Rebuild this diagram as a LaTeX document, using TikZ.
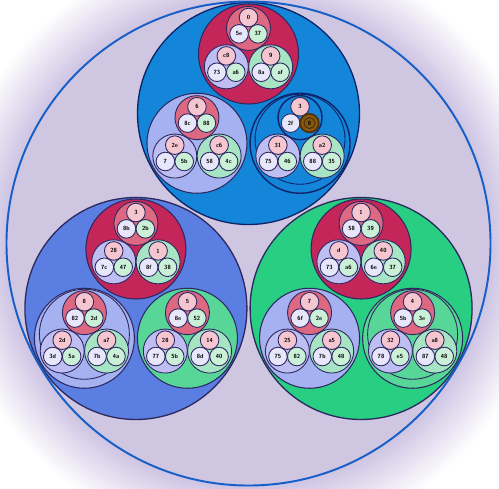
\documentclass[tikz,border=0pt]{standalone}
\usetikzlibrary{calc}

\definecolor{hazecol}{RGB}{206,196,228}
\definecolor{outerfill}{RGB}{207,199,225}
\definecolor{outerline}{RGB}{22,95,200}
\definecolor{pathblue}{RGB}{20,134,218}
\definecolor{ringblue}{RGB}{90,126,226}
\definecolor{ringgreen}{RGB}{40,206,130}
\definecolor{bigred}{RGB}{196,38,90}
\definecolor{biglav}{RGB}{165,177,240}
\definecolor{biggreen}{RGB}{88,214,152}
\definecolor{midred}{RGB}{220,104,130}
\definecolor{midlav}{RGB}{190,190,242}
\definecolor{midgreen}{RGB}{166,228,196}
\definecolor{leafred}{RGB}{245,198,208}
\definecolor{leaflav}{RGB}{232,230,250}
\definecolor{leafgreen}{RGB}{202,240,216}
\definecolor{edge}{RGB}{45,40,95}
\definecolor{pathedge}{RGB}{15,35,105}
\definecolor{nut}{RGB}{135,88,18}
\definecolor{nutedge}{RGB}{80,50,8}

\tikzset{
  outer/.style={draw=outerline,line width=1.1pt},
  bigring/.style={draw=edge,line width=0.75pt},
  ring/.style={draw=edge,line width=0.6pt},
  midring/.style={draw=edge,line width=0.5pt},
  pathring/.style={draw=pathedge,line width=0.8pt},
  ghost/.style={draw=edge,line width=0.5pt},
  leaf/.style={shape=circle,draw=edge,line width=0.5pt,inner sep=0pt,minimum size=0.372cm,
    font=\fontsize{3.4}{3.4}\selectfont\sffamily\bfseries},
  hit/.style={leaf,fill=nut,draw=nutedge,line width=1pt}
}

\newcommand{\kids}[2]{%
  \coordinate (#1-t) at ($(#1)+(90:#2)$);
  \coordinate (#1-l) at ($(#1)+(210:#2)$);
  \coordinate (#1-r) at ($(#1)+(330:#2)$);
}
\def\bud#1#2#3/#4/#5\relax{%
  \draw[midring,fill=#2] (#1) circle (22);
  \node[leaf,fill=leafred] (#1-x) at ($(#1)+(90:10.9)$) {#3};
  \node[leaf,fill=leaflav] (#1-y) at ($(#1)+(210:10.9)$) {#4};
  \node[leaf,fill=leafgreen] (#1-z) at ($(#1)+(330:10.9)$) {#5};
}
\newcommand{\group}[4]{%
  \kids{#1}{25.6}
  \bud{#1-t}{midred}#2\relax
  \bud{#1-l}{midlav}#3\relax
  \bud{#1-r}{midgreen}#4\relax
}

\begin{document}
\begin{tikzpicture}[x=0.02cm,y=0.02cm]
\useasboundingbox (0,0) rectangle (499,488);
\coordinate (hub) at (248.5,244.5);
\foreach \k [evaluate=\k as \p using int(5*\k), evaluate=\k as \rr using 302-2.9*\k] in {0,...,20}
  \fill[hazecol!\p!white] (hub) circle (\rr);
\fill[outerfill] (hub) circle (242);

\kids{hub}{130}
\draw[bigring,fill=pathblue,draw=pathedge] (hub-t) circle (111);
\draw[bigring,fill=ringblue] (hub-l) circle (111);
\draw[bigring,fill=ringgreen] (hub-r) circle (111);
\kids{hub-t}{59.5}
\kids{hub-l}{59.5}
\kids{hub-r}{59.5}

\draw[ring,fill=bigred] (hub-t-t) circle (50);
\group{hub-t-t}{0/5e/37}{c8/73/a6}{9/8a/af}
\draw[ring,fill=biglav] (hub-t-l) circle (50);
\group{hub-t-l}{6/8c/88}{2e/7/5b}{c6/58/4c}
\draw[pathring,fill=pathblue] (hub-t-r) circle (50);
\draw[ghost,draw=pathedge] ($(hub-t-r)+(0,4)$) circle (45);
\kids{hub-t-r}{25.6}
\draw[pathring,fill=pathblue] (hub-t-r-t) circle (22);
\node[leaf,fill=leafred] (hub-t-r-t-x) at ($(hub-t-r-t)+(90:10.9)$) {3};
\node[leaf,fill=leaflav] (hub-t-r-t-y) at ($(hub-t-r-t)+(210:10.9)$) {2f};
\node[hit] (hub-t-r-t-z) at ($(hub-t-r-t)+(330:10.9)$) {8};
\draw[nutedge,line width=0.6pt] (hub-t-r-t-z.center) circle (5.5);
\bud{hub-t-r-l}{midlav}31/75/46\relax
\bud{hub-t-r-r}{midgreen}a2/88/35\relax

\draw[ring,fill=bigred] (hub-l-t) circle (50);
\group{hub-l-t}{3/8b/2b}{28/7c/47}{1/8f/38}
\draw[ring,fill=biglav] (hub-l-l) circle (50);
\draw[ghost] ($(hub-l-l)+(0,4)$) circle (45);
\group{hub-l-l}{8/82/2d}{2d/3d/5a}{a7/7b/4a}
\draw[ring,fill=biggreen] (hub-l-r) circle (50);
\group{hub-l-r}{5/8e/52}{28/77/5b}{14/8d/40}

\draw[ring,fill=bigred] (hub-r-t) circle (50);
\group{hub-r-t}{1/58/39}{d/73/a6}{40/6e/37}
\draw[ring,fill=biglav] (hub-r-l) circle (50);
\group{hub-r-l}{7/6f/2e}{25/75/82}{a5/7b/48}
\draw[ring,fill=biggreen] (hub-r-r) circle (50);
\draw[ghost] ($(hub-r-r)+(0,4)$) circle (45);
\group{hub-r-r}{4/5b/3e}{32/78/e5}{a8/87/48}

\draw[outer] (hub) circle (242);
\end{tikzpicture}
\end{document}
